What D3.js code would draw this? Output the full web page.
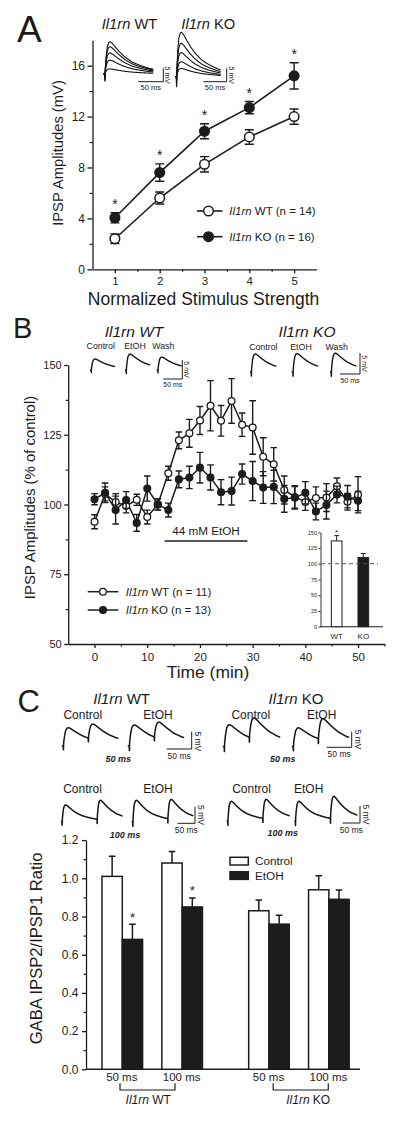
<!DOCTYPE html>
<html><head><meta charset="utf-8">
<script src="https://cdn.jsdelivr.net/npm/d3@7"></script>
<style>
body{margin:0;background:#fff}
svg{display:block}
text{font-family:"Liberation Sans",Arial,Helvetica,sans-serif;white-space:pre}
</style>
</head><body><svg id="fig" width="400" height="1123"></svg>
<script>
// ================= DATA =================
// Panel A: IPSP amplitude vs normalized stimulus strength
const stimStrength = [1, 2, 3, 4, 5];
const ampWT    = [2.4, 5.6, 8.25, 10.4, 12.0];
const ampWTerr = [0.38, 0.47, 0.6, 0.57, 0.6];
const ampKO    = [4.05, 7.6, 10.85, 12.7, 15.2];
const ampKOerr = [0.4, 0.68, 0.59, 0.48, 1.03];
const ampKOstar = [true, true, true, true, true];
const ampYTicks = [0, 4, 8, 12, 16];
const ampYMinor = [2, 6, 10, 14];
const ampXMinor = [1.5, 2.5, 3.5, 4.5];
const legendA = ["Il1rn WT (n = 14)", "Il1rn KO (n = 16)"];

// Panel B: time course (% of control)
const timeMin = [0, 2, 4, 6, 8, 10, 12, 14, 16, 18, 20, 22, 24, 26, 28, 30, 32, 34, 36, 38, 40, 42, 44, 46, 48, 50];
const pctWT    = [93.8, 103.8, 100.9, 99.5, 101.7, 95.5, 100, 111.2, 123, 125.5, 130.1, 135.4, 130, 137.1, 128.6, 127.6, 117.1, 114.4, 105.2, 102.7, 100.9, 102.3, 102.5, 106.5, 101, 103.5];
const pctWTerr = [2.5, 2.5, 3, 2.5, 2, 2.5, 2, 2.5, 3, 5, 5, 9, 5.5, 8, 4.2, 9.6, 6.8, 6, 5, 4, 3, 4, 5, 3, 3, 6.5];
const pctKO    = [101.9, 104.2, 98, 101.6, 93.4, 105.7, 100, 98, 109, 109.7, 113.2, 109.7, 104.4, 104.8, 110.9, 108.4, 106.1, 106.3, 102, 102.4, 104.2, 97.5, 99.8, 103.6, 102.8, 101.3];
const pctKOerr = [2, 3.5, 5, 3, 3, 4.5, 2, 2.5, 3, 4, 5.5, 4.5, 4.5, 5, 3.6, 7, 5.7, 6, 4.8, 4, 4, 3, 5, 3, 4, 3.5];
const pctYTicks = [50, 75, 100, 125, 150];
const pctYMinor = [62.5, 87.5, 112.5, 137.5];
const timeTicks = [0, 10, 20, 30, 40, 50];
const timeMinor = [5, 15, 25, 35, 45, 55];
const ethanolWindow = [13.3, 29];
const legendB = ["Il1rn WT (n = 11)", "Il1rn KO (n = 13)"];
// Panel B inset
const insetCats = ["WT", "KO"];
const insetVals = [136.3, 109.8];
const insetErr  = [8.4, 6.5];
const insetStar = [true, false];
const insetTicks = [0, 25, 50, 75, 100, 125, 150];

// Panel C: paired-pulse ratio
const pairPos    = [1, 2, 3.45, 4.45];
const pairLabels = ["50 ms", "100 ms", "50 ms", "100 ms"];
const ratioCtrl    = [1.01, 1.08, 0.83, 0.94];
const ratioCtrlErr = [0.105, 0.06, 0.057, 0.073];
const ratioEtoh    = [0.68, 0.85, 0.76, 0.89];
const ratioEtohErr = [0.08, 0.047, 0.047, 0.049];
const ratioStar    = [true, true, false, false];
const ratioYTicks = [0, 0.2, 0.4, 0.6, 0.8, 1.0, 1.2];
const ratioYMinor = [0.1, 0.3, 0.5, 0.7, 0.9, 1.1];
const genotypes = ["WT", "KO"];

// Example traces (amplitudes in mV)
const shapeMs   = [-1, 0, 0.4, 0.8, 1.5, 3, 5, 8, 11, 15, 22, 30, 40, 55, 70, 90, 120, 160, 200];
const shapeFrac = [0, 0, -0.35, 0.15, 0.3, 0.6, 0.85, 0.98, 1, 0.95, 0.82, 0.68, 0.53, 0.37, 0.27, 0.17, 0.09, 0.04, 0.02];
const traceAmpA_WT = [12.0, 10.2, 7.9, 5.2, 1.9];
const traceAmpA_KO = [16.6, 12.5, 9.0, 5.6, 3.1];
const traceNamesB = ["Control", "EtOH", "Wash"];
const traceAmpB_WT = [2.9, 4.2, 3.4];
const traceAmpB_KO = [4.3, 4.4, 4.5];
const traceNamesC = ["Control", "EtOH"];
const pairAmp50_WT  = [[5.2, 4.5], [6.0, 4.8]];
const pairAmp50_KO  = [[7.0, 6.8], [6.0, 6.9]];
const pairAmp100_WT = [[5.0, 5.8], [6.4, 5.9]];
const pairAmp100_KO = [[5.8, 5.7], [5.8, 6.6]];

// ================= DRAWING =================
const INK = "#1c1c1c";
const svg = d3.select("#fig");
svg.append("rect").attr("width", 400).attr("height", 1123).attr("fill", "#fff");

function addText(g, x, y, parts, o = {}) {
  const t = g.append("text")
    .attr("transform", `translate(${x},${y})` + (o.rot ? ` rotate(${o.rot})` : ""))
    .attr("font-size", o.size || 12)
    .attr("text-anchor", o.anchor || "start")
    .attr("fill", INK);
  if (o.bold) t.attr("font-weight", "bold");
  const arr = typeof parts === "string" ? [[parts, !!o.italic]] : parts;
  arr.forEach(([s, it]) => t.append("tspan").attr("font-style", it ? "italic" : "normal").text(s));
  return t;
}
function geneLabel(s) { // "Il1rn WT (n = 14)" -> italic gene name
  const i = s.indexOf(" ");
  return [[s.slice(0, i), true], [s.slice(i), false]];
}
function styleAxis(g, fs, sw = 1.3) {
  g.attr("font-size", fs);
  g.selectAll("path,line").attr("stroke", INK).attr("stroke-width", sw);
  g.selectAll("text").attr("fill", INK);
  return g;
}
function minorAxis(g, axis) {
  g.call(axis.tickFormat(""));
  g.select(".domain").remove();
  g.selectAll("line").attr("stroke", INK).attr("stroke-width", 1.2);
}
function errBar(g, x, y1, y2, half, sw) {
  g.append("path").attr("d", `M${x},${y1}V${y2}M${x - half},${y1}H${x + half}M${x - half},${y2}H${x + half}`)
    .attr("stroke", INK).attr("stroke-width", sw).attr("fill", "none");
}
const shapeFn = d3.scaleLinear().domain(shapeMs).range(shapeFrac).clamp(true);
function drawTrace(g, x0, y0, msPx, mvPx, onsets, amps, dur, sw = 1.2) {
  const xs = d3.scaleLinear([0, dur], [x0, x0 + dur * msPx]);
  const ys = d3.scaleLinear([0, 10], [y0, y0 - 10 * mvPx]);
  const ts = d3.range(0, dur + 0.001, 0.25);
  const pts = ts.map(t => [t, d3.sum(onsets, (on, i) => amps[i] * shapeFn(t - on))]);
  g.append("path").attr("d", d3.line().x(d => xs(d[0])).y(d => ys(d[1]))(pts))
    .attr("fill", "none").attr("stroke", "#151515").attr("stroke-width", sw).attr("stroke-linejoin", "round");
}
function scaleBar(g, xR, yB, msPx, mvPx, fs, msLab, mvLab) {
  const w = 50 * msPx, h = 5 * mvPx;
  g.append("path").attr("d", `M${xR - w},${yB}H${xR}V${yB - h}`).attr("stroke", INK).attr("stroke-width", 1).attr("fill", "none");
  addText(g, xR - w / 2 + msLab[0], yB + msLab[1], "50 ms", { size: fs, anchor: "middle" });
  addText(g, xR + mvLab[0], yB - h / 2 + mvLab[1], "5 mV", { size: fs, anchor: "middle", rot: 90 });
}

// ---------- Panel A ----------
const gA = svg.append("g");
addText(gA, 17, 41.5, "A", { size: 37 });
const xA = d3.scaleLinear([0.5, 5.5], [92.5, 316.5]);
const yA = d3.scaleLinear([0, 18], [269.3, 40.2]);
styleAxis(gA.append("g").attr("transform", "translate(92.5,0)")
  .call(d3.axisLeft(yA).tickValues(ampYTicks).tickSize(5).tickSizeOuter(0).tickPadding(2.5).tickFormat(d3.format("d"))), 12);
minorAxis(gA.append("g").attr("transform", "translate(92.5,0)"), d3.axisLeft(yA).tickValues(ampYMinor).tickSize(3));
styleAxis(gA.append("g").attr("transform", "translate(0,269.3)")
  .call(d3.axisBottom(xA).tickValues(stimStrength).tickSize(4).tickSizeOuter(0).tickPadding(4).tickFormat(d3.format("d"))), 11.5);
minorAxis(gA.append("g").attr("transform", "translate(0,269.3)"), d3.axisBottom(xA).tickValues(ampXMinor).tickSize(2.5));
addText(gA, 203.5, 305, "Normalized Stimulus Strength", { size: 17.5, anchor: "middle" });
addText(gA, 63, 153, "IPSP Amplitudes (mV)", { size: 14.75, anchor: "middle", rot: -90 });

const lineA = d3.line().x((d, i) => xA(stimStrength[i])).y(d => yA(d));
[[ampWT, ampWTerr, "#fff"], [ampKO, ampKOerr, INK]].forEach(([v, e, fill]) => {
  gA.append("path").attr("d", lineA(v)).attr("fill", "none").attr("stroke", INK).attr("stroke-width", 1.6);
  v.forEach((d, i) => errBar(gA, xA(stimStrength[i]), yA(d - e[i]), yA(d + e[i]), 4.5, 1.4));
  v.forEach((d, i) => gA.append("circle").attr("cx", xA(stimStrength[i])).attr("cy", yA(d)).attr("r", 4.8)
    .attr("fill", fill).attr("stroke", INK).attr("stroke-width", 1.5));
});
ampKO.forEach((d, i) => { if (ampKOstar[i]) addText(gA, xA(stimStrength[i]), yA(d + ampKOerr[i]) - 3.6, "*", { size: 14, anchor: "middle" }); });
// legend A
[["#fff", 211], [INK, 236.7]].forEach(([fill, y], i) => {
  gA.append("line").attr("x1", 197).attr("x2", 222.5).attr("y1", y).attr("y2", y).attr("stroke", INK).attr("stroke-width", 1.6);
  gA.append("circle").attr("cx", 208.5).attr("cy", y).attr("r", 4.8).attr("fill", fill).attr("stroke", INK).attr("stroke-width", 1.5);
  addText(gA, 229.3, y + 4.1, geneLabel(legendA[i]), { size: 11.5 });
});
// traces A
addText(gA, 129.5, 29.3, [["Il1rn", true], [" WT", false]], { size: 14.7, anchor: "middle" });
addText(gA, 208.3, 29.3, [["Il1rn", true], [" KO", false]], { size: 14.7, anchor: "middle" });
traceAmpA_WT.forEach(a => drawTrace(gA, 103.3, 74, 0.5, 2.68, [3], [a], 100, 1.1));
traceAmpA_KO.forEach(a => drawTrace(gA, 175, 76.7, 0.466, 2.68, [3], [a], 98, 1.1));
scaleBar(gA, 163.3, 81.7, 0.5, 2.68, 7.5, [0, 8.5], [2, 0]);
scaleBar(gA, 226.7, 81.7, 0.466, 2.68, 7.5, [0, 8.5], [2, 0]);

// ---------- Panel B ----------
const gB = svg.append("g");
addText(gB, 13, 338, "B", { size: 29 });
const xB = d3.scaleLinear([-5, 55], [68.2, 384.4]);
const yB = d3.scaleLinear([50, 150], [644, 365]);
styleAxis(gB.append("g").attr("transform", "translate(68.2,0)")
  .call(d3.axisLeft(yB).tickValues(pctYTicks).tickSize(4).tickSizeOuter(0).tickPadding(2.5)), 11);
minorAxis(gB.append("g").attr("transform", "translate(68.2,0)"), d3.axisLeft(yB).tickValues(pctYMinor).tickSize(2.5));
styleAxis(gB.append("g").attr("transform", "translate(0,644)")
  .call(d3.axisBottom(xB).tickValues(timeTicks).tickSize(4).tickSizeOuter(0).tickPadding(4.5)), 11.5);
minorAxis(gB.append("g").attr("transform", "translate(0,644)"), d3.axisBottom(xB).tickValues(timeMinor).tickSize(2.5));
addText(gB, 208, 678, "Time (min)", { size: 17.4, anchor: "middle" });
addText(gB, 35, 497.5, "IPSP Amplitudes (% of control)", { size: 14.9, anchor: "middle", rot: -90 });

const lineB = d3.line().x((d, i) => xB(timeMin[i])).y(d => yB(d));
[[pctWT, pctWTerr, "#fff"], [pctKO, pctKOerr, INK]].forEach(([v, e]) => {
  gB.append("path").attr("d", lineB(v)).attr("fill", "none").attr("stroke", INK).attr("stroke-width", 1.5);
});
[[pctWT, pctWTerr, "#fff"], [pctKO, pctKOerr, INK]].forEach(([v, e, fill]) => {
  v.forEach((d, i) => errBar(gB, xB(timeMin[i]), yB(d - e[i]), yB(d + e[i]), 3.3, 1.4));
  v.forEach((d, i) => gB.append("circle").attr("cx", xB(timeMin[i])).attr("cy", yB(d)).attr("r", 3.4)
    .attr("fill", fill).attr("stroke", INK).attr("stroke-width", 1.3));
});
// ethanol bar
gB.append("line").attr("x1", xB(ethanolWindow[0])).attr("x2", xB(ethanolWindow[1])).attr("y1", 541).attr("y2", 541)
  .attr("stroke", INK).attr("stroke-width", 1.6);
addText(gB, (xB(ethanolWindow[0]) + xB(ethanolWindow[1])) / 2, 535, "44 mM EtOH", { size: 11.7, anchor: "middle" });
// legend B
[["#fff", 591.7], [INK, 610]].forEach(([fill, y], i) => {
  gB.append("line").attr("x1", 87.7).attr("x2", 118.3).attr("y1", y).attr("y2", y).attr("stroke", INK).attr("stroke-width", 1.5);
  gB.append("circle").attr("cx", 103).attr("cy", y).attr("r", 3.4).attr("fill", fill).attr("stroke", INK).attr("stroke-width", 1.3);
  addText(gB, 125.7, y + 4.1, geneLabel(legendB[i]), { size: 11.5 });
});
// inset
const yIn = d3.scaleLinear([0, 150], [626.7, 532.3]);
const xIn = d3.scaleBand().domain(insetCats).range([322, 378]).paddingInner(0.6).paddingOuter(0.35);
styleAxis(gB.append("g").attr("transform", "translate(320.5,0)")
  .call(d3.axisLeft(yIn).tickValues(insetTicks).tickSize(2).tickSizeOuter(0).tickPadding(1.5)), 5.5, 0.9);
gB.append("line").attr("x1", 320.5).attr("x2", 383).attr("y1", yIn(0)).attr("y2", yIn(0)).attr("stroke", INK).attr("stroke-width", 1.1);
insetCats.forEach((c, i) => {
  const x = xIn(c), w = xIn.bandwidth(), cx = x + w / 2;
  gB.append("path").attr("d", `M${cx},${yIn(insetVals[i])}V${yIn(insetVals[i] + insetErr[i])}M${cx - 2.5},${yIn(insetVals[i] + insetErr[i])}H${cx + 2.5}`)
    .attr("stroke", INK).attr("stroke-width", 1).attr("fill", "none");
  gB.append("rect").attr("x", x).attr("y", yIn(insetVals[i])).attr("width", w).attr("height", yIn(0) - yIn(insetVals[i]))
    .attr("fill", i === 0 ? "#fff" : INK).attr("stroke", INK).attr("stroke-width", 1);
  addText(gB, cx, 638.6, c, { size: 8, anchor: "middle" });
  if (insetStar[i]) addText(gB, cx, yIn(insetVals[i] + insetErr[i]) - 1, "*", { size: 8, anchor: "middle" });
});
gB.append("line").attr("x1", 321).attr("x2", 378).attr("y1", yIn(100)).attr("y2", yIn(100))
  .attr("stroke", "#555").attr("stroke-width", 1.2).attr("stroke-dasharray", "4,3");
// traces B
addText(gB, 134, 337.2, "Il1rn WT", { size: 15.5, anchor: "middle", italic: true });
addText(gB, 307, 337.2, "Il1rn KO", { size: 15.5, anchor: "middle", italic: true });
const bWTx = [90, 125, 156.7], bKOx = [250, 291.7, 330];
const bWTlab = [100.7, 135, 163.3], bKOlab = [263.3, 301, 336.7];
traceNamesB.forEach((n, i) => {
  addText(gB, bWTlab[i], 348.8, n, { size: 8.8, anchor: "middle" });
  addText(gB, bKOlab[i], 349.5, n, { size: 8.8, anchor: "middle" });
  drawTrace(gB, bWTx[i], 370, 0.38, 3.8, [3], [traceAmpB_WT[i]], 66, 1.4);
  drawTrace(gB, bKOx[i], 372, 0.4, 4.2, [3], [traceAmpB_KO[i]], 66, 1.4);
});
scaleBar(gB, 182.3, 379, 0.38, 3.8, 7, [0, 7.5], [2, 0]);
scaleBar(gB, 360, 374, 0.4, 4.2, 7, [0, 9], [2, 0]);

// ---------- Panel C ----------
const gC = svg.append("g");
addText(gC, 17.5, 712, "C", { size: 31 });
addText(gC, 121.7, 703.7, [["Il1rn", true], [" WT", false]], { size: 15, anchor: "middle" });
addText(gC, 296, 703.7, [["Il1rn", true], [" KO", false]], { size: 15, anchor: "middle" });
const c1Lab = [[82.8, 158], [250.8, 321.7]];
const c2Lab = [[82.5, 158], [251.5, 308.7]];
traceNamesC.forEach((n, i) => {
  addText(gC, c1Lab[0][i], 718.6, n, { size: 12, anchor: "middle" });
  addText(gC, c1Lab[1][i], 718.6, n, { size: 12, anchor: "middle" });
  addText(gC, c2Lab[0][i], 792.6, n, { size: 12, anchor: "middle" });
  addText(gC, c2Lab[1][i], 792.6, n, { size: 12, anchor: "middle" });
});
const c1WTx = [61.7, 127.7], c1KOx = [222.7, 291.7];
const c2WTx = [61, 131.7], c2KOx = [226.7, 294.3];
[0, 1].forEach(i => {
  drawTrace(gC, c1WTx[i], 745.7, 0.5, 3.46, [3, 53], pairAmp50_WT[i], 113, 1.5);
  drawTrace(gC, c1KOx[i], 746.5, 0.5, 3.12, [3, 53], pairAmp50_KO[i], 115, 1.5);
  drawTrace(gC, c2WTx[i], 821.5, 0.35, 3.32, [3, 103], pairAmp100_WT[i], 176, 1.5);
  drawTrace(gC, c2KOx[i], 821, 0.35, 3.4, [3, 103], pairAmp100_KO[i], 180, 1.5);
});
scaleBar(gC, 191.7, 749, 0.5, 3.46, 8.5, [0, 9.5], [3, 1]);
scaleBar(gC, 351.7, 747.3, 0.5, 3.12, 8.5, [0, 9.5], [3, 0]);
scaleBar(gC, 195, 823.3, 0.35, 3.32, 8.5, [0, 9.5], [3, 0]);
scaleBar(gC, 360, 823, 0.35, 3.4, 8.5, [0, 9.5], [3, 0]);
addText(gC, 118.3, 761.5, "50 ms", { size: 9, anchor: "middle", italic: true, bold: true });
addText(gC, 282.7, 761.5, "50 ms", { size: 9, anchor: "middle", italic: true, bold: true });
addText(gC, 125, 838.2, "100 ms", { size: 9, anchor: "middle", italic: true, bold: true });
addText(gC, 282.7, 836, "100 ms", { size: 9, anchor: "middle", italic: true, bold: true });

// bar chart
const xC = d3.scaleLinear([0.394, 4.97], [86, 360]);
const yC = d3.scaleLinear([0, 1.2], [1069.3, 840.1]);
const bw = 20.3;
styleAxis(gC.append("g").attr("transform", "translate(86,0)")
  .call(d3.axisLeft(yC).tickValues(ratioYTicks).tickSize(4).tickSizeOuter(0).tickPadding(3.5).tickFormat(d3.format(".1f"))), 12);
minorAxis(gC.append("g").attr("transform", "translate(86,0)"), d3.axisLeft(yC).tickValues(ratioYMinor).tickSize(2.5));
gC.append("line").attr("x1", 86).attr("x2", 360).attr("y1", yC(0)).attr("y2", yC(0)).attr("stroke", INK).attr("stroke-width", 1.4);
addText(gC, 42, 948.4, "GABA IPSP2/IPSP1 Ratio", { size: 16.6, anchor: "middle", rot: -90 });

pairPos.forEach((p, i) => {
  const cx = xC(p);
  [[ratioCtrl, ratioCtrlErr, "#fff", cx - bw], [ratioEtoh, ratioEtohErr, INK, cx]].forEach(([v, e, fill, x0]) => {
    const mx = x0 + bw / 2;
    gC.append("path").attr("d", `M${mx},${yC(v[i])}V${yC(v[i] + e[i])}M${mx - 3.3},${yC(v[i] + e[i])}H${mx + 3.3}`)
      .attr("stroke", INK).attr("stroke-width", 1.5).attr("fill", "none");
    gC.append("rect").attr("x", x0).attr("y", yC(v[i])).attr("width", bw).attr("height", yC(0) - yC(v[i]))
      .attr("fill", fill).attr("stroke", INK).attr("stroke-width", 1.5);
  });
  if (ratioStar[i]) addText(gC, cx + bw / 2, yC(ratioEtoh[i] + ratioEtohErr[i]) - 2.6, "*", { size: 13, anchor: "middle" });
  addText(gC, cx - 0.5, 1081.4, pairLabels[i], { size: 11.5, anchor: "middle" });
});
// group brackets
const bracketUnits = [[0.962, 1.88, 1.434], [3.52, 4.44, 4.105]];
genotypes.forEach((gname, k) => {
  const [a, b, c] = bracketUnits[k];
  gC.append("path").attr("d", `M${xC(a)},1083.2V1090H${xC(b)}V1083.2`).attr("stroke", INK).attr("stroke-width", 1.2).attr("fill", "none");
  addText(gC, xC(c), 1103.8, [["Il1rn", true], [" " + gname, false]], { size: 12, anchor: "middle" });
});
// legend C
[["#fff", 857.3, "Control"], [INK, 871.7, "EtOH"]].forEach(([fill, y, lab]) => {
  gC.append("rect").attr("x", 230).attr("y", y).attr("width", 18.3).attr("height", 7.7)
    .attr("fill", fill).attr("stroke", INK).attr("stroke-width", 1.5);
  addText(gC, 255, y + 8, lab, { size: 11.7 });
});
</script>
</body></html>
